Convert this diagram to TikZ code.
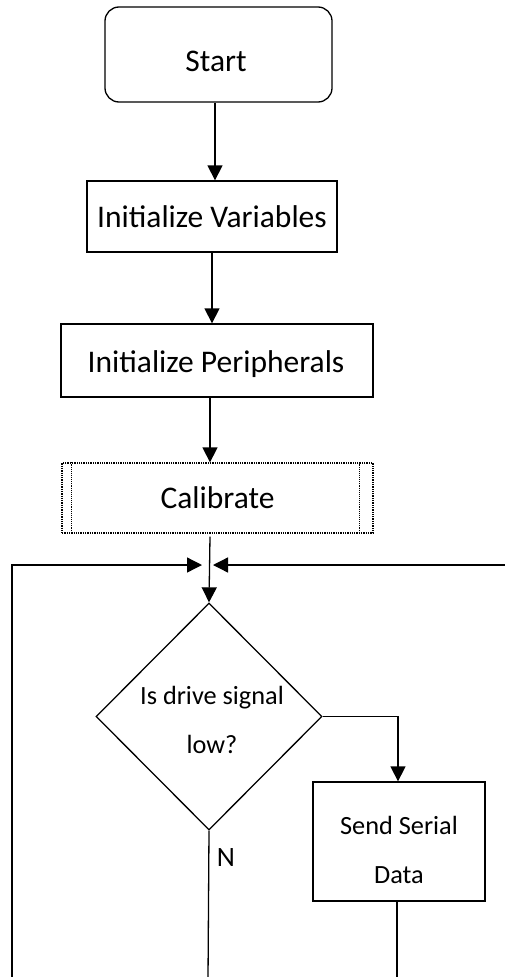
\documentclass[tikz,border=0pt]{standalone}
\usepackage{fontspec}
\setmainfont{Carlito}
\usetikzlibrary{arrows.meta,shapes.geometric}

\begin{document}
\begin{tikzpicture}[x=1pt,y=-1pt,
  line width=1.3pt,
  arr/.style={-{Triangle[length=15pt,width=15pt]}},
  bigtext/.style={font=\fontsize{31.5}{38}\selectfont},
  smalltext/.style={font=\fontsize{26.3}{49.5}\selectfont, align=center},
  procbox/.style={draw, rectangle, inner sep=0pt, bigtext},
  termbox/.style={draw, rectangle, rounded corners=14pt, inner sep=0pt, bigtext},
  predef/.style={draw, densely dotted, rectangle, inner sep=0pt, bigtext},
  decision/.style={draw, diamond, inner sep=0pt, minimum width=226pt, minimum height=227pt}
]
\useasboundingbox (0,0) rectangle (504,977);

% main sequence
\node[termbox, minimum width=227pt, minimum height=95pt] (start) at (218.5,54.5) {};
\node[bigtext] (starttxt) at (216,61) {Start};
\node[procbox, minimum width=250pt, minimum height=71pt] (iv) at (212,216.5) {Initialize Variables};
\node[procbox, minimum width=312pt, minimum height=73pt] (ip) at (217,360.5) {};
\node[bigtext] (iptxt) at (216,364) {Initialize Peripherals};
\node[predef, minimum width=311pt, minimum height=70pt] (cal) at (217.5,498) {Calibrate};
\draw[densely dotted, line width=1.1pt] ([xshift=10pt]cal.north west) -- ([xshift=10pt]cal.south west)
                    ([xshift=-14pt]cal.north east) -- ([xshift=-14pt]cal.south east);

% decision
\node[decision] (dia) at (209,716.5) {};
\node[smalltext] (q) at (212,720) {Is drive signal\\low?};
\node[draw, rectangle, inner sep=0pt, minimum width=172pt, minimum height=119pt] (send) at (399,841.5) {};
\node[smalltext] (sendtxt) at (399,850) {Send Serial\\Data};
\node[font=\fontsize{28}{32}\selectfont] (nlab) at (226,858) {N};

% loop-back junction
\coordinate (jl) at (202,565);
\coordinate (jr) at (213,565);
\coordinate (lt) at (12,565);
\coordinate (lb) at (12,980);
\coordinate (rt) at (506,565);
\coordinate (nb) at (208,980);
\coordinate (sb) at (397,980);

% connectors
\draw[arr] ([xshift=-3.5pt]start.south) -- ([xshift=-3.5pt]start.south |- iv.north);
\draw[arr] (iv.south) -- (iv.south |- ip.north);
\draw[arr] ([xshift=-7pt]ip.south) -- ([xshift=-7pt]ip.south |- cal.north);
\draw[arr] ([xshift=-7.5pt,yshift=-3pt]cal.south) -- (dia.north);
\draw[arr] (lb) -- (lt) -- (jl);
\draw[arr] (rt) -- (jr);
\draw[arr] (dia.east) -| ([xshift=-1pt]send.north);
\draw (dia.south) -- (nb);
\draw ([xshift=-2pt]send.south) -- (sb);
\end{tikzpicture}
\end{document}
